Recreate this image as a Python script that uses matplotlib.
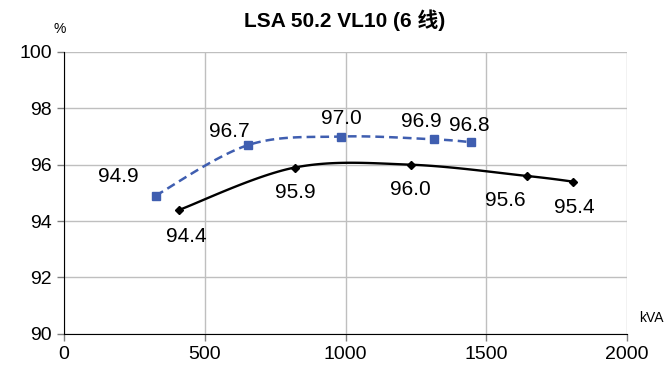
import numpy as np
import matplotlib
matplotlib.use("Agg")
import matplotlib.pyplot as plt

plt.rcParams['font.family'] = ['Liberation Sans', 'Noto Sans CJK SC', 'DejaVu Sans']

title = "LSA 50.2 VL10 (6 线)"
x_blue = [325, 655, 985, 1315, 1445]
y_blue = [94.9, 96.7, 97.0, 96.9, 96.8]
x_black = [410, 820, 1232, 1645, 1808]
y_black = [94.4, 95.9, 96.0, 95.6, 95.4]
x_ticks = [0, 500, 1000, 1500, 2000]
y_ticks = [90, 92, 94, 96, 98, 100]

# label offsets in points (dx, dy)
blue_off = [(-27, 14), (-14, 10), (0, 13), (-9, 13), (-1, 12)]
black_off = [(5, -19), (0, -18), (0, -18), (-16, -18), (1, -19)]

fig = plt.figure(figsize=(6.67, 3.66), dpi=100)
ax = fig.add_axes([0.096, 0.088, 0.844, 0.770])


def smooth(xs, ys, sx, sy, n=30):
    p = np.column_stack([np.array(xs) / sx, np.array(ys) / sy])
    out = []
    m = len(p)
    for i in range(m - 1):
        p0 = p[i - 1] if i > 0 else p[i]
        p1 = p[i]
        p2 = p[i + 1]
        p3 = p[i + 2] if i + 2 < m else p[i + 1]
        c1 = p1 + (p2 - p0) / 6
        c2 = p2 - (p3 - p1) / 6
        t = np.linspace(0, 1, n)[:, None]
        seg = ((1 - t) ** 3) * p1 + 3 * ((1 - t) ** 2) * t * c1 + 3 * (1 - t) * t ** 2 * c2 + t ** 3 * p2
        out.append(seg if i == 0 else seg[1:])
    out = np.vstack(out)
    return out[:, 0] * sx, out[:, 1] * sy

sx, sy = 2000 / 564, 10 / 282
bx, by = smooth(x_blue, y_blue, sx, sy)
kx, ky = smooth(x_black, y_black, sx, sy)

blue = '#3F5EB0'
ax.plot(bx, by, color=blue, lw=1.8, ls=(0, (3.5, 2)), zorder=3)
ax.plot(x_blue, y_blue, ls='none', marker='s', ms=5.5, color=blue, zorder=4)
ax.plot(kx, ky, color='black', lw=1.7, zorder=3)
ax.plot(x_black, y_black, ls='none', marker='D', ms=4.5, color='black', zorder=4)

for x, y, (dx, dy) in zip(x_blue, y_blue, blue_off):
    ax.annotate(f"{y:.1f}", (x, y), xytext=(dx, dy), textcoords='offset points',
                ha='center', va='center', fontsize=15)
for x, y, (dx, dy) in zip(x_black, y_black, black_off):
    ax.annotate(f"{y:.1f}", (x, y), xytext=(dx, dy), textcoords='offset points',
                ha='center', va='center', fontsize=15)

ax.set_xlim(0, 2000)
ax.set_ylim(90, 100)
ax.set_xticks(x_ticks)
ax.set_yticks(y_ticks)
ax.tick_params(labelsize=14, length=5, width=1, color='#808080')
ax.grid(True, color='#BFBFBF', lw=1)
ax.set_axisbelow(True)
for s in ['top', 'right']:
    ax.spines[s].set_visible(False)
ax.spines['left'].set_color('black')
ax.spines['bottom'].set_color('black')
ax.spines['left'].set_zorder(5)
ax.spines['bottom'].set_zorder(5)

fig.text(0.517, 0.945, title, ha='center', va='center', fontsize=15, fontweight='bold')
fig.text(0.09, 0.922, "%", ha='center', va='center', fontsize=10)
fig.text(0.977, 0.13, "kVA", ha='center', va='center', fontsize=10)

fig.savefig('out.png', dpi=100)
